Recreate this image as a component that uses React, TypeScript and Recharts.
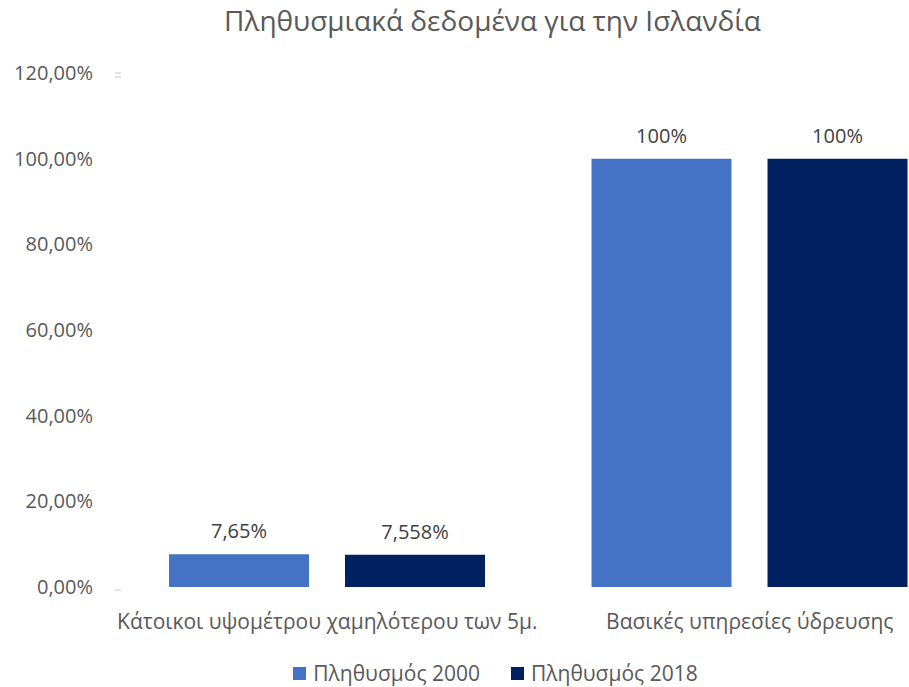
import { BarChart, Bar, XAxis, YAxis, Legend, LabelList } from "recharts";

const categories = ["Κάτοικοι υψομέτρου χαμηλότερου των 5μ.", "Βασικές υπηρεσίες ύδρευσης"];
const pop2000 = [7.65, 100];
const pop2018 = [7.558, 100];
const labels2000 = ["7,65%", "100%"];
const labels2018 = ["7,558%", "100%"];
const yTicks = [0, 20, 40, 60, 80, 100, 120];

const FONT = "'Open Sans', 'Noto Sans', sans-serif";
const TEXT = "#595959";
const C2000 = "#4472C4";
const C2018 = "#002060";

const data = categories.map((name, i) => ({
  name,
  p2000: pop2000[i],
  p2018: pop2018[i],
  l2000: labels2000[i],
  l2018: labels2018[i],
}));

function YTick({ x, y, payload }: any) {
  const v = payload.value;
  return (
    <g>
      <text x={x} y={y} dy="0.35em" textAnchor="end" fill={TEXT} fontSize={20} fontFamily={FONT}>
        {v.toFixed(2).replace(".", ",")}%
      </text>
      {v === 0 && <line x1={115} x2={121} y1={y + 3} y2={y + 3} stroke="#d9d9d9" strokeWidth={1.5} />}
      {v === 120 && (
        <g stroke="#d9d9d9" strokeWidth={1.5}>
          <line x1={115} x2={121} y1={y} y2={y} />
          <line x1={115} x2={121} y1={y + 4} y2={y + 4} />
        </g>
      )}
    </g>
  );
}

function LegendContent() {
  const items = [
    { label: "Πληθυσμός 2000", color: C2000 },
    { label: "Πληθυσμός 2018", color: C2018 },
  ];
  return (
    <div
      style={{
        display: "flex",
        justifyContent: "center",
        gap: 31,
        fontFamily: FONT,
        fontSize: 21,
        color: TEXT,
        paddingTop: 12,
        paddingLeft: 30,
      }}
    >
      {items.map((it) => (
        <div key={it.label} style={{ display: "flex", alignItems: "center" }}>
          <span style={{ width: 13, height: 13, background: it.color, display: "inline-block", marginRight: 7 }} />
          {it.label}
        </div>
      ))}
    </div>
  );
}

export default function App() {
  return (
    <div style={{ position: "absolute", left: 0, top: 0, width: 909, height: 687, overflow: "hidden", background: "#fff" }}>
      <div
        style={{
          position: "absolute",
          top: 1,
          left: 0,
          width: 985,
          textAlign: "center",
          fontFamily: FONT,
          fontSize: 28,
          color: TEXT,
        }}
      >
        Πληθυσμιακά δεδομένα για την Ισλανδία
      </div>
      <BarChart
        width={985}
        height={687}
        data={data}
        margin={{ top: 73, right: 24, left: 0, bottom: 0 }}
        barCategoryGap="12.6%"
        barGap={36}
      >
        <XAxis
          dataKey="name"
          interval={0}
          axisLine={false}
          tickLine={false}
          tickMargin={21}
          height={60}
          tick={{ fill: TEXT, fontSize: 21, fontFamily: FONT }}
        />
        <YAxis
          domain={[0, 120]}
          ticks={yTicks}
          width={116}
          axisLine={false}
          tickLine={false}
          tick={<YTick />}
          tickMargin={17}
        />
        <Legend verticalAlign="bottom" height={40} content={<LegendContent />} />
        <Bar dataKey="p2000" fill={C2000} barSize={140} isAnimationActive={false}>
          <LabelList dataKey="l2000" position="top" offset={16} fill="#404040" fontSize={20} fontFamily={FONT} />
        </Bar>
        <Bar dataKey="p2018" fill={C2018} barSize={140} isAnimationActive={false}>
          <LabelList dataKey="l2018" position="top" offset={16} fill="#404040" fontSize={20} fontFamily={FONT} />
        </Bar>
      </BarChart>
    </div>
  );
}
